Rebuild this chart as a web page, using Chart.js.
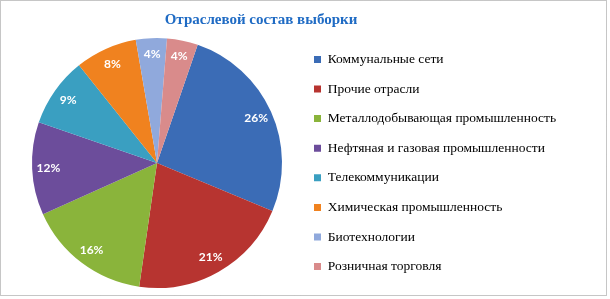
<!DOCTYPE html>
<html lang="ru">
<head>
  <meta charset="UTF-8">
  <title>Отраслевой состав выборки</title>
  <script src="https://cdn.jsdelivr.net/npm/chart.js@4.4.1/dist/chart.umd.min.js"></script>
  <style>
    html, body { margin: 0; padding: 0; background: #fff; overflow: hidden; }
    canvas { display: block; }
  </style>
</head>
<body>
  <canvas id="sectors" width="610" height="299"></canvas>

  <script>
    // данные с картинки (доли в %)
    const sectors = ['Коммунальные сети', 'Прочие отрасли', 'Металлодобывающая промышленность',
      'Нефтяная и газовая промышленности', 'Телекоммуникации', 'Химическая промышленность',
      'Биотехнологии', 'Розничная торговля'];
    const shares = [26, 21, 16, 12, 9, 8, 4, 4];
    const sliceColors = ['#3b6cb6', '#b73430', '#8ab43b', '#6c4d9b', '#3a9fc1', '#f0821f', '#90a9dc', '#d98b8b'];

    const titleText = 'Отраслевой состав выборки';
    const legendFont = { family: 'Liberation Serif', size: 13.5 };
    const legendPad = 16.1;

    // ширина легенды, чтобы поставить её на место
    const m = document.createElement('canvas').getContext('2d');
    m.font = legendFont.size + 'px "' + legendFont.family + '"';
    let maxText = 0;
    sectors.forEach(s => { maxText = Math.max(maxText, m.measureText(s).width); });
    const legendW = legendPad + 7 + legendFont.size / 2 + maxText + 10;
    const pieX = 157;
    // legend may be at most half of the free width
    const legendLeft = Math.max(314 - legendPad, (2 * pieX + legendW) / 2 + 0.5);
    const padLeft = 2 * pieX - legendLeft;
    const padRight = 610 - legendLeft - legendW;

    const frame = {
      id: 'frame',
      beforeDraw(chart) {
        const ctx = chart.ctx;
        ctx.save();
        ctx.fillStyle = '#fff';
        ctx.fillRect(0, 0, chart.width, chart.height);
        ctx.strokeStyle = '#8c8c8c';
        ctx.lineWidth = 1;
        ctx.setLineDash([1, 1]);
        ctx.strokeRect(0.5, 0.5, 606, 295);
        ctx.restore();
      },
      afterDraw(chart) {
        const ctx = chart.ctx;
        ctx.save();
        ctx.font = 'bold 15px "Liberation Serif"';
        ctx.fillStyle = '#1f6bc4';
        ctx.textAlign = 'center';
        ctx.textBaseline = 'middle';
        ctx.fillText(titleText, 261, 20);
        ctx.restore();
      }
    };

    const pctLabels = {
      id: 'pctLabels',
      afterDatasetsDraw(chart) {
        const ctx = chart.ctx;
        const meta = chart.getDatasetMeta(0);
        ctx.save();
        ctx.font = 'bold 12px Lato';
        ctx.fillStyle = '#fff';
        ctx.textAlign = 'center';
        ctx.textBaseline = 'middle';
        meta.data.forEach((arc, i) => {
          const p = arc.getProps(['x', 'y', 'startAngle', 'endAngle', 'outerRadius']);
          const mid = (p.startAngle + p.endAngle) / 2;
          const r = p.outerRadius * 0.87;
          ctx.fillText(shares[i] + '%', p.x + Math.cos(mid) * r, p.y + Math.sin(mid) * r);
        });
        ctx.restore();
      }
    };

    new Chart(document.getElementById('sectors'), {
      type: 'pie',
      data: {
        labels: sectors,
        datasets: [{
          data: shares,
          backgroundColor: sliceColors,
          borderWidth: 0,
          radius: 125
        }]
      },
      options: {
        responsive: false,
        animation: false,
        rotation: 19,
        layout: { padding: { top: 30, bottom: 3, left: padLeft, right: padRight } },
        plugins: {
          legend: {
            position: 'right',
            align: 'center',
            labels: {
              boxWidth: 7,
              boxHeight: 7,
              padding: legendPad,
              color: '#000',
              font: legendFont
            }
          },
          title: { display: false },
          tooltip: { enabled: false }
        }
      },
      plugins: [frame, pctLabels]
    });
  </script>
</body>
</html>
